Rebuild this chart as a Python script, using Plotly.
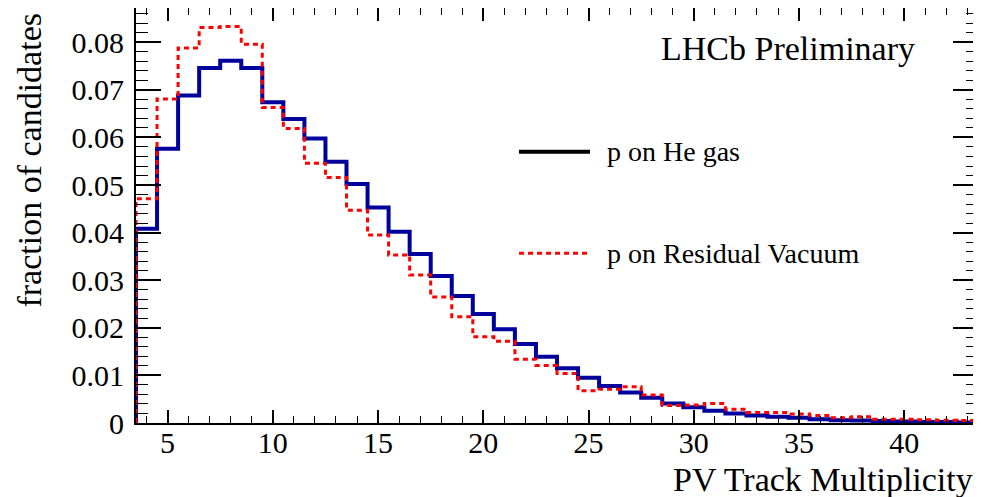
import numpy as np
import plotly.graph_objects as go

# PV track multiplicity, one bin per integer value 4..43
mult = list(range(4, 44))

he_gas = [0.0408, 0.0576, 0.0688, 0.0746, 0.0761, 0.0746, 0.0674, 0.0639, 0.0598, 0.0549,
          0.0502, 0.0453, 0.0402, 0.0355, 0.0309, 0.0267, 0.0229, 0.0197, 0.0166, 0.0139,
          0.0115, 0.0095, 0.0078, 0.0064, 0.0053, 0.0041, 0.0033, 0.0026, 0.0020, 0.0016,
          0.0013, 0.0011, 0.0008, 0.0006, 0.0005, 0.0004, 0.0003, 0.0002, 0.0002, 0.0001]

res_vac = [0.0471, 0.0681, 0.0788, 0.0831, 0.0833, 0.0796, 0.0663, 0.0619, 0.0546, 0.0516,
           0.0447, 0.0395, 0.0353, 0.0311, 0.0265, 0.0223, 0.0181, 0.0172, 0.0134, 0.0121,
           0.0104, 0.0068, 0.0071, 0.0076, 0.0059, 0.0037, 0.0038, 0.0041, 0.0029, 0.0022,
           0.0022, 0.0019, 0.0016, 0.0011, 0.0013, 0.0008, 0.0008, 0.0007, 0.0006, 0.0005]

labels = ["p on He gas", "p on Residual Vacuum"]

FONT = "Liberation Serif"
BLUE = "#00009c"
RED = "#ff0000"


def step_xy(centers, vals):
    # ROOT-like outline: start at 0 on the low edge, close at 0 on the high edge
    c = np.asarray(centers, dtype=float)
    lo = c - 0.5
    x = [lo[0]] + list(lo) + [c[-1] + 0.5, c[-1] + 0.5]
    y = [0] + list(vals) + [vals[-1], 0]
    return x, y


fig = go.Figure()

x, y = step_xy(mult, he_gas)
fig.add_trace(go.Scatter(x=x, y=y, mode="lines", line_shape="hv",
                         line=dict(color=BLUE, width=4), name=labels[0], showlegend=False))
x, y = step_xy(mult, res_vac)
fig.add_trace(go.Scatter(x=x, y=y, mode="lines", line_shape="hv",
                         line=dict(color=RED, width=3, dash="5px,4px"), name=labels[1],
                         showlegend=False))

# hand-drawn legend (ROOT style: He gas entry drawn in black)
leg = [(0.6537, "black", "solid", 4), (0.4089, RED, "5px,4px", 3)]
for (ly, col, dash, w), txt in zip(leg, labels):
    fig.add_shape(type="line", xref="paper", yref="paper", x0=0.4549, x1=0.5392, y0=ly, y1=ly,
                  line=dict(color=col, dash=dash, width=w))
    fig.add_annotation(xref="paper", yref="paper", x=0.557, y=ly, text=txt, showarrow=False,
                       xanchor="left", yanchor="middle", font=dict(size=28, color="black"))

fig.add_annotation(xref="paper", yref="paper", x=0.9276, y=0.9036, text="LHCb Preliminary",
                   showarrow=False, xanchor="right", yanchor="middle", font=dict(size=34))
fig.add_annotation(xref="paper", yref="paper", x=0.9964, y=-0.137, text="PV Track Multiplicity",
                   showarrow=False, xanchor="right", yanchor="middle", font=dict(size=34))
fig.add_annotation(xref="paper", yref="paper", x=-0.1259, y=0.995, text="fraction of candidates",
                   textangle=-90, showarrow=False, xanchor="center", yanchor="top",
                   font=dict(size=34))

fig.update_xaxes(range=[3.5, 43.5], tick0=5, dtick=5, ticks="inside", ticklen=13, tickwidth=1.5,
                 tickcolor="black", showline=True, linecolor="black", linewidth=2, mirror="ticks",
                 showgrid=False, zeroline=False, ticklabelstandoff=-8, automargin=False,
                 tickfont=dict(size=30, family=FONT, color="black"),
                 minor=dict(dtick=1, ticks="inside", ticklen=7, tickcolor="black", tickwidth=1.2))
fig.update_yaxes(range=[0, 0.0872], tick0=0, dtick=0.01, ticks="inside", ticklen=25, tickwidth=1.5,
                 tickcolor="black", showline=True, linecolor="black", linewidth=2, mirror="ticks",
                 showgrid=False, zeroline=False, ticklabelstandoff=4, automargin=False,
                 tickfont=dict(size=30, family=FONT, color="black"),
                 minor=dict(dtick=0.002, ticks="inside", ticklen=12, tickcolor="black", tickwidth=1.2))

# the page body has an 8px margin, so the figure is shrunk by 8px and the
# left/top margins reduced to keep the frame where the reference has it
fig.update_layout(width=973, height=489, margin=dict(l=128, r=3, t=0, b=74, autoexpand=False),
                  plot_bgcolor="white", paper_bgcolor="white",
                  font=dict(family=FONT, color="black"), showlegend=False)

fig.write_html("out.html")
